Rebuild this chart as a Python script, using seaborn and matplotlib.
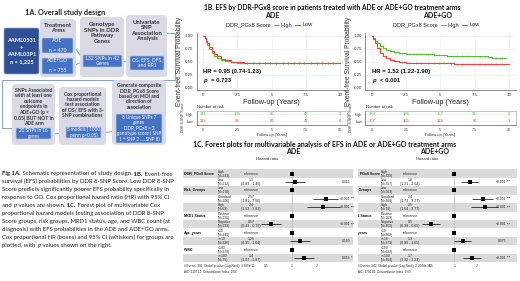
import numpy as np
import pandas as pd
import matplotlib
matplotlib.use("Agg")
import matplotlib.pyplot as plt
import seaborn as sns
from matplotlib.patches import FancyBboxPatch, Rectangle
from matplotlib.transforms import Bbox

# ---------------- data ----------------
# Kaplan-Meier, ADE arm
ade_high_t = [0, 0.1, 0.2, 0.3, 0.45, 0.6, 0.8, 1.0, 1.3, 1.6, 2.0, 2.5, 3.0, 4.0, 5.0, 6.0, 7.5, 9.0, 10.0]
ade_high_s = [1.0, 0.95, 0.88, 0.82, 0.74, 0.67, 0.61, 0.57, 0.53, 0.51, 0.49, 0.48, 0.475, 0.47, 0.47, 0.465, 0.465, 0.465, 0.465]
ade_low_t = [0, 0.1, 0.2, 0.3, 0.45, 0.6, 0.8, 1.0, 1.3, 1.6, 2.0, 2.5, 3.0, 4.0, 5.0, 6.0, 7.5, 9.0, 10.0]
ade_low_s = [1.0, 0.96, 0.9, 0.85, 0.77, 0.7, 0.64, 0.6, 0.55, 0.52, 0.5, 0.49, 0.48, 0.475, 0.475, 0.47, 0.47, 0.47, 0.47]
# Kaplan-Meier, ADE+GO arm
go_high_t = [0, 0.1, 0.25, 0.4, 0.6, 0.8, 1.0, 1.3, 1.6, 2.0, 2.5, 3.0, 3.6, 4.5, 5.5, 6.5, 7.5, 8.5, 8.8, 9.8]
go_high_s = [1.0, 0.96, 0.9, 0.85, 0.8, 0.76, 0.73, 0.7, 0.68, 0.665, 0.65, 0.64, 0.635, 0.62, 0.615, 0.61, 0.6, 0.59, 0.575, 0.575]
go_low_t = [0, 0.1, 0.25, 0.4, 0.6, 0.8, 1.0, 1.3, 1.6, 2.0, 2.5, 3.0, 4.0, 5.0, 6.0, 7.5, 9.0, 10.0]
go_low_s = [1.0, 0.94, 0.85, 0.76, 0.66, 0.6, 0.56, 0.52, 0.505, 0.49, 0.48, 0.475, 0.47, 0.465, 0.46, 0.455, 0.455, 0.455]
# censor marks (years)
cens_times = [2.2, 2.7, 3.2, 3.6, 4.1, 4.5, 4.9, 5.3, 5.8, 6.2, 6.6, 7.0, 7.4, 7.9, 8.3, 8.7, 9.1, 9.5]

# Numbers at risk
risk_times = [0, 2.5, 5, 7.5, 10]
ade_risk_high = [241, 108, 86, 48, 0]
ade_risk_low = [212, 96, 80, 47, 0]
go_risk_high = [329, 196, 157, 91, 0]
go_risk_low = [357, 155, 124, 65, 1]

# Forest plots
fp_vars = ["DDR_PGx8 Score", "", "Risk_Groups", "", "", "MRD1.Status", "", "Age_years", "", "WBC", ""]
fp_levels = ["High", "Low", "Low", "Standard", "High", "Positive", "Negative", "<10", ">=10", "<100", ">=100"]
ade_n = [241, 212, 170, 206, 69, 135, 293, 241, 226, 378, 75]
ade_hr = [1.0, 1.10, 1.0, 2.57, 2.40, 1.0, 0.57, 1.0, 1.25, 1.0, 1.40]
ade_lo = [np.nan, 0.83, np.nan, 1.81, 1.53, np.nan, 0.43, np.nan, 0.95, np.nan, 1.07]
ade_hi = [np.nan, 1.46, np.nan, 3.66, 3.82, np.nan, 0.75, np.nan, 1.64, np.nan, 1.87]
ade_p = ["", "0.415", "", "<0.001 ***", "<0.001 ***", "", "<0.001 ***", "", "0.160", "", "0.014 *"]
go_n = [329, 357, 263, 368, 78, 163, 402, 362, 373, 622, 103]
go_hr = [1.0, 1.6, 1.0, 2.4, 2.5, 1.0, 0.5, 1.0, 1.3, 1.0, 1.7]
go_lo = [np.nan, 1.21, np.nan, 1.73, 1.64, np.nan, 0.38, np.nan, 0.98, np.nan, 1.32]
go_hi = [np.nan, 2.02, np.nan, 3.27, 3.77, np.nan, 0.65, np.nan, 1.65, np.nan, 2.23]
go_p = ["", "<0.001 ***", "", "<0.001 ***", "<0.001 ***", "", "<0.001 ***", "", "0.075", "", "<0.001 ***"]
hr_ticks = [0.5, 1, 2]

# ---------------- style ----------------
sns.set_theme(style="white")
plt.rcParams["font.family"] = ["Liberation Sans", "DejaVu Sans"]
W, H = 520, 281
fig = plt.figure(figsize=(W / 100, H / 100), dpi=100)
GREEN, RED = "#52c234", "#f0443a"
BLUE_D, BLUE = "#2f4f96", "#4472c4"
GRAYBOX = "#d9dae6"
CAL = ["Lato", "DejaVu Sans"]
LIB = ["Liberation Sans", "DejaVu Sans"]

ax0 = fig.add_axes([0, 0, 1, 1])
ax0.set_xlim(0, W)
ax0.set_ylim(H, 0)
ax0.axis("off")

fig.canvas.draw()
R = fig.canvas.get_renderer()


def pax(x0, y0, x1, y1):
    return fig.add_axes([x0 / W, 1 - y1 / H, (x1 - x0) / W, (y1 - y0) / H])


def rbox(x0, y0, x1, y1, fc, ec="none", r=3, lw=0.5, z=1):
    ax0.add_patch(FancyBboxPatch((x0, y0), x1 - x0, y1 - y0,
                                 boxstyle=f"round,pad=0,rounding_size={r}",
                                 fc=fc, ec=ec, lw=lw, zorder=z))


def t(x, y, s, **kw):
    kw.setdefault("family", CAL)
    return ax0.text(x, y, s, **kw)


def seg_width(s, **kw):
    a = ax0.text(0, 0, "|" + s + "|", **kw)
    b = ax0.text(0, 0, "||", **kw)
    w = a.get_window_extent(R).width - b.get_window_extent(R).width
    a.remove(); b.remove()
    return w


# ---------------- 1A flowchart ----------------
t(25, 12, "1A. Overall study design", fontsize=5.3, fontweight="bold", va="center", color="#222")
lc = dict(color="#6f8fd0", lw=0.6, zorder=0.5)
ax0.plot([167, 175, 175, 2, 2, 14], [33, 33, 80, 80, 128, 128], **lc)
ax0.plot([39, 43], [51, 45], **lc); ax0.plot([39, 43], [51, 66], **lc)
ax0.plot([73, 84], [45, 61], **lc); ax0.plot([73, 84], [66, 61], **lc)
ax0.plot([121, 131], [61, 63], **lc)
ax0.plot([51, 68], [134, 133], **lc); ax0.plot([100, 118], [133, 131], **lc)

rbox(4, 28, 39, 74, BLUE_D, ec="#8fa6d8", r=2, z=2)
t(21.5, 51, "AAML0531\n+\nAAML03P1\nn = 1,225", fontsize=4.1, color="white",
  fontweight="bold", ha="center", va="center", linespacing=1.55, zorder=3)

rbox(40, 19, 76, 77, GRAYBOX, r=4)
t(58, 28, "Treatment\nArms", fontsize=4.3, fontweight="bold", ha="center", va="center", color="#333", linespacing=1.15)
rbox(42, 38, 73, 53, BLUE, ec="#b9c8e8", r=1, z=2)
t(57.5, 45.5, "ADE\n\nn = 470", fontsize=3.7, color="white", ha="center", va="center", linespacing=1.0, zorder=3)
rbox(42, 58, 73, 74, BLUE, ec="#b9c8e8", r=1, z=2)
t(57.5, 66, "ADE+GO\n\nn = 755", fontsize=3.7, color="white", ha="center", va="center", linespacing=1.0, zorder=3)

rbox(80, 17, 124, 77, GRAYBOX, r=4)
t(102, 33, "Genotype\nSNPs in DDR\nPathway\nGenes", fontsize=4.3, fontweight="bold", ha="center", va="center", color="#333", linespacing=1.1)
rbox(83, 55, 122, 67, BLUE, ec="#b9c8e8", r=1, z=2)
t(102.5, 61, "132 SNPs in 42\nGenes", fontsize=3.6, color="white", ha="center", va="center", linespacing=1.15, zorder=3)

rbox(126, 15, 167, 77, GRAYBOX, r=4)
t(146.5, 30.5, "Univariate\nSNP\nAssociation\nAnalysis", fontsize=4.3, fontweight="bold", ha="center", va="center", color="#333", linespacing=1.1)
rbox(130, 56, 164, 70, BLUE, ec="#b9c8e8", r=1, z=2)
t(147, 63, "OS, EFS, DFS,\nand RR1", fontsize=3.6, color="white", ha="center", va="center", linespacing=1.15, zorder=3)

rbox(12, 84, 55, 145, GRAYBOX, r=4)
t(33.5, 107, "SNPs Associated\nwith at least one\noutcome\nendpoints in\nADE+GO (p <\n0.05) BUT NOT in\nADE arm", fontsize=3.6,
  fontweight="bold", ha="center", va="center", color="#333", linespacing=1.1)
rbox(16, 128, 51, 139, BLUE, ec="#b9c8e8", r=1, z=2)
t(33.5, 133.5, "20 SNPs in 16\ngenes", fontsize=3.3, color="white", ha="center", va="center", linespacing=1.1, zorder=3)

rbox(59, 87, 106, 145, GRAYBOX, r=4)
t(82.5, 105, "Cox proportional\nhazard models\ntest association\nof OS/ EFS with 3-\nSNP combinations", fontsize=3.6,
  fontweight="bold", ha="center", va="center", color="#333", linespacing=1.1)
rbox(66, 127, 101, 138, BLUE, ec="#b9c8e8", r=1, z=2)
t(83.5, 132.5, "5 models ( 1000\nperm p<0.05)", fontsize=3.3, color="white", ha="center", va="center", linespacing=1.1, zorder=3)

rbox(112, 80, 166, 145, GRAYBOX, r=4)
t(139, 96.5, "Generate composite\nDDR_PGx8 Score\nbased on MOI and\ndirection of\nassociation", fontsize=3.6,
  fontweight="bold", ha="center", va="center", color="#333", linespacing=1.1)
rbox(116, 114, 162, 143, BLUE, ec="#b9c8e8", r=1, z=2)
t(139, 128.5, "8 Unique SNPs 7\ngenes\nDDR_PGx8 = Σ\ngenotype score ( SNP\n1 + SNP 2 .....SNP 8)", fontsize=3.3,
  color="white", ha="center", va="center", linespacing=1.1, zorder=3)

# ---------------- caption ----------------


def rich(x, y, segs, fs=4.35):
    for s, fw, st in segs:
        kw = dict(fontsize=fs, fontweight=fw, fontstyle=st, family=CAL, color="#222")
        ax0.text(x, y, s, va="baseline", **kw)
        x += seg_width(s, **kw)


N, B, I = "normal", "bold", "italic"
cap = [
    [("Fig 1A.", B, N), (" Schematic representation of study design.", N, N), (" 1B.", B, N), (" Event-free", N, N)],
    [("survival (EFS) probabilities by DDR 8-SNP Score. Low DDR 8-SNP", N, N)],
    [("Score predicts significantly poorer EFS probability specifically in", N, N)],
    [("response to GO. Cox proportional hazard ratio (HR) with 95% CI", N, N)],
    [("and ", N, N), ("p", N, I), (" values are shown.", N, N), (" 1C.", B, N), (" Forest plot of multivariable Cox", N, N)],
    [("proportional hazard models testing association of DDR 8-SNP", N, N)],
    [("Score groups, risk groups, MRD1 status, age, and WBC count (at", N, N)],
    [("diagnosis) with EFS probabilities in the ADE and ADE+GO arms.", N, N)],
    [("Cox proportional HR (boxes) and 95% CI (whiskers) for groups are", N, N)],
    [("plotted, with ", N, N), ("p", N, I), (" values shown on the right.", N, N)],
]
for i, line in enumerate(cap):
    rich(2.5, 175.5 + 7.9 * i, line)

# ---------------- 1B KM ----------------
t(332, 7.5, "1B. EFS by DDR-PGx8 score in patients treated with ADE or ADE+GO treatment arms",
  fontsize=4.9, fontweight="bold", ha="center", va="center", color="#111")
t(272, 16, "ADE", fontsize=5.0, fontweight="bold", ha="center", va="center", color="#111")
t(438, 16, "ADE+GO", fontsize=5.0, fontweight="bold", ha="center", va="center", color="#111")


def legend(x, y):
    kw = dict(fontsize=4.0, family=LIB, color="#222")
    t(x, y, "DDR_PGx8 Score", va="center", **kw)
    x += seg_width("DDR_PGx8 Score", **kw) + 3
    ax0.plot([x, x + 5], [y, y], color=GREEN, lw=0.8)
    x += 7
    t(x, y, "High", va="center", **kw)
    x += seg_width("High", **kw) + 3
    ax0.plot([x, x + 5], [y, y], color=RED, lw=0.8)
    x += 7
    t(x, y, "Low", va="center", **kw)


legend(226, 25)
legend(393, 25)


def style_ax(ax):
    ax.set_facecolor("white")
    ax.grid(True, color="#ebebeb", lw=0.4)
    for s in ["top", "right"]:
        ax.spines[s].set_visible(False)
    for s in ["left", "bottom"]:
        ax.spines[s].set_color("#333")
        ax.spines[s].set_linewidth(0.4)
    ax.tick_params(axis="both", labelsize=3.2, length=1.2, width=0.4, pad=1, colors="#333")


def km(x0, tH, sH, tL, sL, hr, pv, risk_h, risk_l):
    ax = pax(x0 - 6.8, 32.9, x0 + 143.5, 90.1)
    dfH = pd.DataFrame({"t": tH, "s": sH})
    dfL = pd.DataFrame({"t": tL, "s": sL})
    sns.lineplot(data=dfH, x="t", y="s", drawstyle="steps-post", color=GREEN, lw=0.8, ax=ax, estimator=None, sort=False)
    sns.lineplot(data=dfL, x="t", y="s", drawstyle="steps-post", color=RED, lw=0.8, ax=ax, estimator=None, sort=False)
    for tt, ss, col in [(tH, sH, GREEN), (tL, sL, RED)]:
        cs = [c for c in cens_times if c <= tt[-1]]
        yv = np.interp(cs, tt, ss)
        ax.plot(cs, yv, ls="none", marker="|", ms=1.6, mew=0.4, color=col)
    ax.set_xlim(-0.5, 10.5)
    ax.set_ylim(-0.05, 1.05)
    ax.set_xticks(risk_times)
    ax.set_xticklabels(["0", "2.5", "5", "7.5", "10"])
    ax.set_yticks([0, 0.25, 0.5, 0.75, 1.0])
    ax.set_yticklabels(["0.00", "0.25", "0.50", "0.75", "1.00"])
    ax.set_xlabel("Follow-up (Years)", fontsize=5.2, labelpad=1.5, color="#222")
    ax.set_ylabel("Event-free Survival Probability", fontsize=4.8, labelpad=1.5, color="#333")
    style_ax(ax)
    ax.text(0.0, 0.3, hr, fontsize=4.3, fontweight="bold", va="center", color="#111")
    ax.text(0.0, 0.14, pv[0], fontsize=4.3, fontweight="bold", fontstyle="italic", va="center", color="#111")
    ax.text(0.55, 0.14, pv[1], fontsize=4.3, fontweight="bold", va="center", color="#111")
    # risk table
    t(x0 - 6, 107.5, "Number at risk", fontsize=3.0, va="center", family=LIB, color="#222")
    rx = pax(x0 - 6.8, 111, x0 + 143.5, 124.5)
    for xx, a, b in zip(risk_times, risk_h, risk_l):
        rx.text(xx, 1.5, str(a), fontsize=3.0, color=GREEN, ha="center", va="center")
        rx.text(xx, 0.5, str(b), fontsize=3.0, color=RED, ha="center", va="center")
    rx.set_xlim(-0.5, 10.5)
    rx.set_ylim(0, 2)
    rx.set_xticks(risk_times)
    rx.set_xticklabels(["0", "2.5", "5", "7.5", "10"])
    rx.set_yticks([0.5, 1.5])
    rx.set_yticklabels(["Low", "High"])
    for lab, col in zip(rx.get_yticklabels(), [RED, GREEN]):
        lab.set_color(col)
    style_ax(rx)
    rx.tick_params(labelsize=2.6)
    for s in ["top", "right"]:
        rx.spines[s].set_visible(True)
        rx.spines[s].set_color("#999")
        rx.spines[s].set_linewidth(0.4)
    rx.set_xlabel("Follow-up (Years)", fontsize=2.8, labelpad=1, color="#222")
    rx.set_ylabel("DDR 8-SNP Score", fontsize=2.6, labelpad=1, color="#333")
    return ax


km(203.3, ade_high_t, ade_high_s, ade_low_t, ade_low_s, "HR = 0.95 (0.74-1.23)", ("p", "= 0.723"),
   ade_risk_high, ade_risk_low)
km(372, go_high_t, go_high_s, go_low_t, go_low_s, "HR = 1.52 (1.22-1.90)", ("p", "< 0.001"),
   go_risk_high, go_risk_low)

# ---------------- 1C forest ----------------
t(325, 144.5, "1C. Forest plots for multivariable analysis of EFS in ADE or ADE+GO treatment arms",
  fontsize=5.0, fontweight="bold", ha="center", va="center", color="#111")
t(293, 152, "ADE", fontsize=5.0, fontweight="bold", ha="center", va="center", color="#111")
t(435, 152, "ADE+GO", fontsize=5.0, fontweight="bold", ha="center", va="center", color="#111")

ROW0, PITCH = 169.3, 8.45


def forest(xl, xr, xvar, xlev, xtxt, xhr, ref_px, pxln, ax_l, ax_r, p_x, n, hr, lo, hi, pv, foot):
    clip = Bbox.from_extents(xl, 0, W, H)
    t(xhr, 159, "Hazard ratio", fontsize=3.0, ha="center", va="center", family=LIB, color="#222")
    for i in range(11):
        y0 = ROW0 + PITCH * i
        if i % 2 == 0:
            ax0.add_patch(Rectangle((xl, y0), xr - xl, PITCH, fc="#dadada", ec="none", zorder=0.2))
        yc = y0 + PITCH / 2
        if fp_vars[i]:
            tx = t(xvar, yc, fp_vars[i], fontsize=2.6, fontweight="bold", va="center", family=LIB, color="#111")
            tx.set_clip_box(clip)
            tx.set_clip_on(True)
        t(xlev, yc, f"{fp_levels[i]}\n(N={n[i]})", fontsize=2.4, va="center", family=LIB, color="#222", linespacing=1.0)
        if np.isnan(lo[i]):
            s = "reference"
        else:
            s = f"{hr[i]:g}\n({lo[i]:.2f} - {hi[i]:.2f})"
        t(xtxt, yc, s, fontsize=2.5, ha="center", va="center", family=LIB, color="#222", linespacing=1.0)
        if pv[i]:
            parts = pv[i].split(" ")
            t(p_x, yc, parts[0], fontsize=2.4, ha="right", va="center", family=LIB, color="#222")
            if len(parts) > 1:
                t(p_x + 1, yc, parts[1], fontsize=2.4, ha="left", va="center", family=LIB, color="#222")
    lx = np.exp((ax_l - ref_px) / pxln)
    rxv = np.exp((ax_r - ref_px) / pxln)
    ax = pax(ax_l, ROW0, ax_r, ROW0 + PITCH * 11)
    ax.patch.set_alpha(0)
    df = pd.DataFrame({"hr": hr, "lo": lo, "hi": hi, "row": np.arange(11) + 0.5})
    ax.hlines(df["row"], df["lo"], df["hi"], color="black", lw=0.5)
    sns.scatterplot(data=df, x="hr", y="row", marker="s", s=5, color="black", edgecolor="black", lw=0, ax=ax, zorder=3)
    ax.axvline(1, color="#bbbbbb", lw=0.5, zorder=0)
    ax.set_xscale("log")
    ax.set_xlim(lx, rxv)
    ax.set_ylim(11, 0)
    ax.set_yticks([])
    ax.set_xlabel("")
    ax.set_ylabel("")
    ax.minorticks_off()
    ax.set_xticks(hr_ticks)
    ax.set_xticklabels([f"{v:g}" for v in hr_ticks])
    ax.tick_params(axis="x", labelsize=2.4, length=0, pad=1.2, colors="#333")
    for s in ax.spines.values():
        s.set_visible(False)
    ax.grid(False)
    t(xvar if xvar > xl else xl, 266, foot[0], fontsize=2.2, va="center", family=LIB, color="#222")
    t(xvar if xvar > xl else xl, 271.5, foot[1], fontsize=2.2, va="center", family=LIB, color="#222")


forest(183, 353, 184, 218, 251, 267, 291.7, 36, 257, 342, 350, ade_n, ade_hr, ade_lo, ade_hi, ade_p,
       ("# Events: 202; Global p-value (Log-Rank): 1.585e-11", "AIC: 2197.12; Concordance Index: 0.66"))
forest(358, 517, 350, 381, 410, 427, 454.3, 33, 418, 502, 506, go_n, go_hr, go_lo, go_hi, go_p,
       ("# Events: 242; Global p-value (Log-Rank): 2.2044e-16", "AIC: 2791.81; Concordance Index: 0.69"))

fig.savefig("out.png", dpi=100)
